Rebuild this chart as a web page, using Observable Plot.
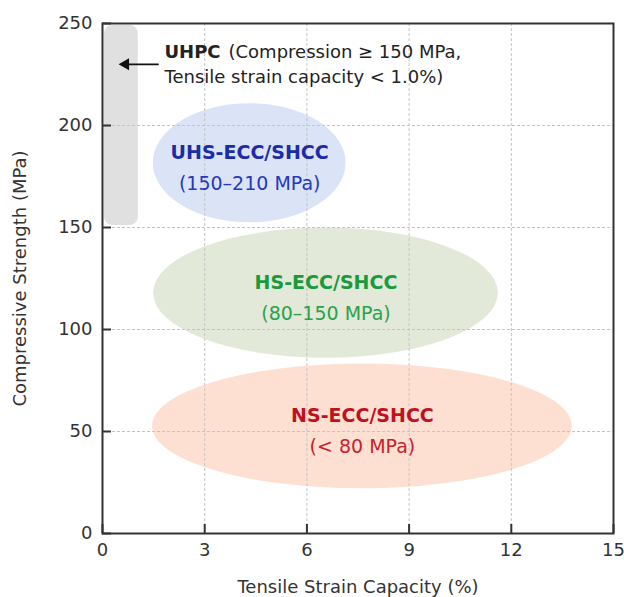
<!DOCTYPE html>
<html><head><meta charset="utf-8">
<script src="https://cdn.jsdelivr.net/npm/d3@7"></script>
<script src="https://cdn.jsdelivr.net/npm/@observablehq/plot@0.6"></script>
<style>body{margin:0;background:#fff} #chart{width:624px;height:597px}</style>
</head><body><div id="chart"></div>
<script>
// Region ellipses (data units: x = tensile strain %, y = compressive strength MPa)
const regions = ["UHS-ECC/SHCC", "HS-ECC/SHCC", "NS-ECC/SHCC"];
const ranges = ["(150–210 MPa)", "(80–150 MPa)", "(< 80 MPa)"];
const centerX = [4.32, 6.56, 7.63];
const centerY = [181.5, 117.8, 52.5];
const radiusX = [2.83, 5.06, 6.16];
const radiusY = [29.2, 31.9, 30.6];
// UHPC band
const uhpcX = [0.06, 1.05];
const uhpcY = [151, 249];
const arrowX = [1.65, 0.56];
const arrowY = 230;
const uhpcLabelX = 1.82;
const uhpcLabelY = [236.1, 223.9];
const uhpcTitle = "UHPC";
const uhpcLine1 = "(Compression ≥ 150 MPa,";
const uhpcLine2 = "Tensile strain capacity < 1.0%)";
// Axes
const xTicks = [0, 3, 6, 9, 12, 15];
const yTicks = [0, 50, 100, 150, 200, 250];
const xLabel = "Tensile Strain Capacity (%)";
const yLabel = "Compressive Strength (MPa)";

const fills = ["#dae4f6", "#e2e9d8", "#fde0d2"];
const titleColors = ["#1c2ba6", "#1a9a3c", "#c0121e"];
const subColors = ["#2638bd", "#2ba24a", "#c8222c"];

const ellipses = regions.map((name, i) => ({
  name, range: ranges[i],
  x1: centerX[i] - radiusX[i], x2: centerX[i] + radiusX[i],
  y1: centerY[i] - radiusY[i], y2: centerY[i] + radiusY[i],
  cx: centerX[i], cy: centerY[i]
}));

function asEllipse(index, scales, values, dimensions, context, next) {
  const g = next(index, scales, values, dimensions, context);
  g.querySelectorAll("rect").forEach(r => {
    const w = +r.getAttribute("width"), h = +r.getAttribute("height");
    r.setAttribute("rx", w / 2);
    r.setAttribute("ry", h / 2);
  });
  return g;
}

const W = 624, H = 597, ML = 102, MR = 11, MT = 23, MB = 64;
const tickLen = 9;

const marks = [];
marks.push(Plot.rect([{x1: uhpcX[0], x2: uhpcX[1], y1: uhpcY[0], y2: uhpcY[1]}],
  {x1: "x1", x2: "x2", y1: "y1", y2: "y2", fill: "#e0e0e0", rx: 8}));
ellipses.forEach((d, i) => {
  marks.push(Plot.rect([d], {x1: "x1", x2: "x2", y1: "y1", y2: "y2", fill: fills[i], render: asEllipse}));
});
marks.push(Plot.gridX(xTicks.filter(v => v > 0 && v < 15), {stroke: "#c4c4c4", strokeOpacity: 1, strokeWidth: 1, strokeDasharray: "3,2"}));
marks.push(Plot.gridY(yTicks.filter(v => v > 0 && v < 250), {stroke: "#c4c4c4", strokeOpacity: 1, strokeWidth: 1, strokeDasharray: "3,2"}));
ellipses.forEach((d, i) => {
  marks.push(Plot.text([d], {x: "cx", y: "cy", text: "name", dy: -10, fontWeight: "bold", fontSize: 19, fill: titleColors[i]}));
  marks.push(Plot.text([d], {x: "cx", y: "cy", text: "range", dy: 21, fontSize: 19, fill: subColors[i]}));
});
marks.push(Plot.link([{x1: arrowX[0], x2: arrowX[1], y: arrowY}],
  {x1: "x1", x2: "x2", y1: "y", y2: "y", stroke: "#111", strokeWidth: 1.8}));
marks.push(Plot.dot([{x: arrowX[1], y: arrowY}],
  {x: "x", y: "y", symbol: "triangle", rotate: -90, r: 4.5, dx: 4, fill: "#111", stroke: "none"}));
marks.push(Plot.text([uhpcTitle], {x: uhpcLabelX, y: uhpcLabelY[0], text: d => d, textAnchor: "start", fontWeight: "bold", fontSize: 18, fill: "#222"}));
marks.push(Plot.text([uhpcLine1], {x: uhpcLabelX, y: uhpcLabelY[0], text: d => d, textAnchor: "start", dx: 64, fontSize: 18, fill: "#222"}));
marks.push(Plot.text([uhpcLine2], {x: uhpcLabelX, y: uhpcLabelY[1], text: d => d, textAnchor: "start", fontSize: 18, fill: "#222"}));
// inward tick marks
marks.push(Plot.tickX(xTicks, {x: d => d, insetTop: (H - MT - MB) - tickLen, stroke: "#333", strokeWidth: 2}));
marks.push(Plot.tickY(yTicks, {y: d => d, insetRight: (W - ML - MR) - tickLen, stroke: "#333", strokeWidth: 2}));
marks.push(Plot.frame({stroke: "#333", strokeWidth: 2}));
marks.push(Plot.axisX(xTicks, {tickSize: 0, tickPadding: 10, fontSize: 18, fill: "#333", label: null}));
marks.push(Plot.axisY(yTicks, {tickSize: 0, tickPadding: 10, fontSize: 18, fill: "#333", label: null}));
marks.push(Plot.text([xLabel], {frameAnchor: "bottom", lineAnchor: "middle", textAnchor: "middle", dy: 54, text: d => d, fontSize: 18, fill: "#333"}));
marks.push(Plot.text([yLabel], {frameAnchor: "left", textAnchor: "middle", lineAnchor: "middle", dx: -82, rotate: -90, text: d => d, fontSize: 18, fill: "#333"}));

const chart = Plot.plot({
  width: W, height: H,
  marginLeft: ML, marginRight: MR, marginTop: MT, marginBottom: MB,
  x: {domain: [0, 15]},
  y: {domain: [0, 250]},
  style: {fontFamily: "DejaVu Sans", fontSize: "16px", color: "#222", background: "#fff"},
  marks
});
document.getElementById("chart").appendChild(chart);
</script>
</body></html>
